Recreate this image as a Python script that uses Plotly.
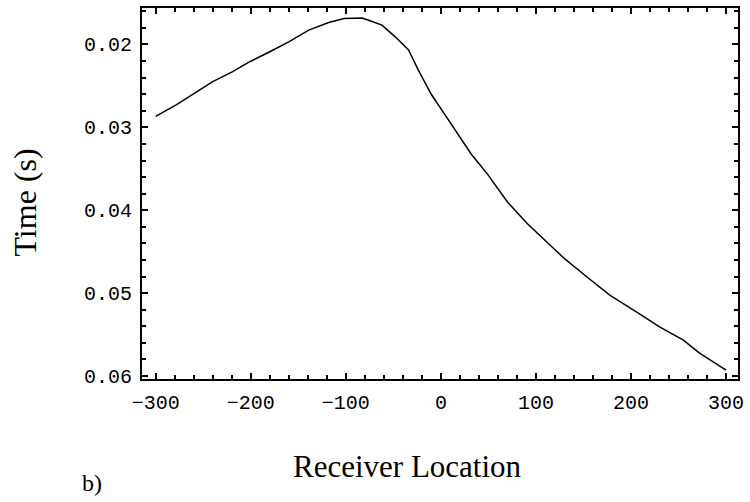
import plotly.graph_objects as go

# Data (receiver location vs. travel time)
receiver_x = [-300, -278, -259, -240, -219, -201, -180, -160, -139, -118, -102, -83, -76,
              -62, -48, -34, -24, -10, 4, 18, 32, 49, 70, 91, 112, 130, 154, 178, 206,
              230, 255, 272, 300]
time_s = [0.02868, 0.02727, 0.02588, 0.02448, 0.02328, 0.02208, 0.02088, 0.01968,
          0.01827, 0.01736, 0.01688, 0.01680, 0.01707, 0.01767, 0.01908, 0.02067,
          0.02304, 0.02604, 0.02844, 0.03084, 0.03324, 0.03564, 0.03900, 0.04164,
          0.04392, 0.04584, 0.04808, 0.05028, 0.05228, 0.05408, 0.05568, 0.05724,
          0.05928]

x_ticks = [-300, -200, -100, 0, 100, 200, 300]
y_ticks = [0.02, 0.03, 0.04, 0.05, 0.06]
y_ticklabels = ["0.02", "0.03", "0.04", "0.05", "0.06"]

fig = go.Figure()
fig.add_trace(go.Scatter(x=receiver_x, y=time_s, mode="lines",
                         line=dict(color="black", width=1.5), showlegend=False))

tickfont = dict(family="Liberation Mono", size=20, color="black")
fig.update_layout(
    width=750, height=502,
    margin=dict(l=142, r=8, t=6, b=123),
    paper_bgcolor="white", plot_bgcolor="white",
    xaxis=dict(range=[-314.4, 312.5], tickvals=x_ticks, ticks="inside", ticklen=6,
               tickwidth=1.5, tickcolor="black", showline=True, linecolor="black",
               linewidth=2, mirror="ticks", showgrid=False, zeroline=False,
               tickfont=tickfont, ticklabelstandoff=4,
               minor=dict(dtick=20, tick0=0, ticks="inside", ticklen=4, tickwidth=1.5,
                          tickcolor="black", showgrid=False)),
    yaxis=dict(range=[0.06036, 0.0156], tickvals=y_ticks, ticktext=y_ticklabels,
               ticks="inside", ticklen=6, tickwidth=1.5, tickcolor="black",
               showline=True, linecolor="black", linewidth=2, mirror="ticks",
               showgrid=False, zeroline=False, tickfont=tickfont, ticklabelstandoff=4,
               minor=dict(dtick=0.002, tick0=0, ticks="inside", ticklen=4, tickwidth=1.5,
                          tickcolor="black", showgrid=False)),
    annotations=[
        dict(text="Time (s)", xref="paper", yref="paper", x=-0.197, y=0.4745,
             textangle=-90, showarrow=False, xanchor="center", yanchor="middle",
             font=dict(family="Liberation Serif", size=32, color="black")),
        dict(text="Receiver Location", xref="paper", yref="paper", x=0.445, y=-0.236,
             showarrow=False, xanchor="center", yanchor="middle",
             font=dict(family="Liberation Serif", size=31, color="black")),
        dict(text="b)", xref="paper", yref="paper", x=-0.0833, y=-0.2815,
             showarrow=False, xanchor="center", yanchor="middle",
             font=dict(family="Liberation Serif", size=24, color="black")),
    ],
)

fig.write_html("out.html")
